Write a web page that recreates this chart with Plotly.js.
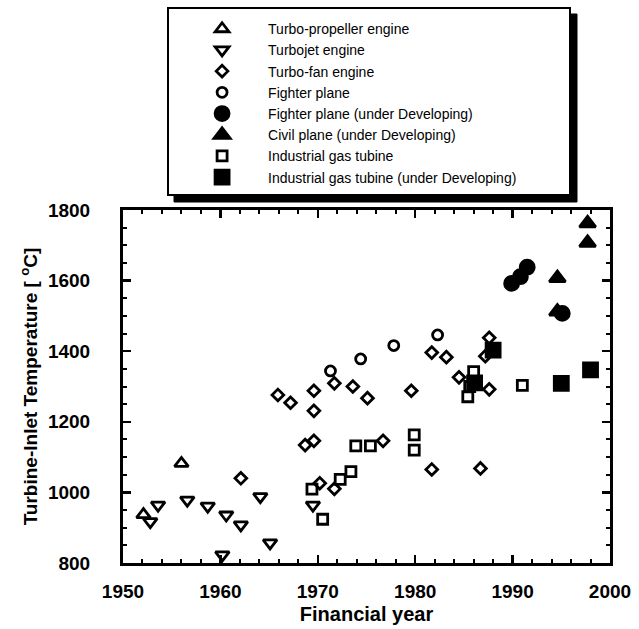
<!DOCTYPE html>
<html>
<head>
<meta charset="utf-8">
<script src="https://cdn.plot.ly/plotly-3.0.1.min.js"></script>
<style>html,body{margin:0;padding:0;background:#fff;}#chart{width:639px;height:629px;}</style>
</head>
<body>
<div id="chart"></div>
<script>
// Data (year, turbine-inlet temperature in °C)
var turbopropX = [1952.1, 1956.0];
var turbopropY = [937, 1082];

var turbojetX = [1952.8, 1953.6, 1956.6, 1958.7, 1960.2, 1960.6, 1962.1, 1964.1, 1965.1, 1969.5];
var turbojetY = [917, 964, 978, 961, 823, 936, 908, 988, 857, 964];

var turbofanX = [1962.1, 1965.9, 1967.2, 1968.7, 1969.6, 1969.6, 1969.6, 1970.2, 1971.7, 1971.7, 1973.6, 1975.1, 1976.7, 1979.6, 1981.7, 1981.7, 1983.2, 1984.5, 1986.7, 1987.2, 1987.6, 1987.6];
var turbofanY = [1040, 1276, 1254, 1134, 1146, 1231, 1288, 1026, 1010, 1309, 1300, 1267, 1146, 1288, 1065, 1396, 1383, 1326, 1068, 1386, 1438, 1292];

var fighterX = [1971.3, 1974.4, 1977.8, 1982.3];
var fighterY = [1344, 1378, 1416, 1446];

var fighterDevX = [1989.9, 1990.8, 1991.5, 1995.1];
var fighterDevY = [1592, 1611, 1638, 1507];

var civilDevX = [1994.6, 1994.6, 1997.7, 1997.7];
var civilDevY = [1512, 1607, 1707, 1762];

var industrialX = [1969.4, 1970.5, 1972.3, 1973.4, 1973.9, 1975.4, 1979.9, 1979.9, 1985.4, 1985.6, 1986.0, 1991.0];
var industrialY = [1009, 924, 1037, 1059, 1132, 1132, 1120, 1163, 1271, 1300, 1342, 1303];

var industrialDevX = [1986.1, 1988.0, 1995.0, 1998.0];
var industrialDevY = [1310, 1403, 1309, 1347];

var seriesNames = [
  'Turbo-propeller engine',
  'Turbojet engine',
  'Turbo-fan engine',
  'Fighter plane',
  'Fighter plane (under Developing)',
  'Civil plane (under Developing)',
  'Industrial gas tubine',
  'Industrial gas tubine (under Developing)'
];

var xTicks = [1950, 1960, 1970, 1980, 1990, 2000];
var yTicks = [800, 1000, 1200, 1400, 1600, 1800];

function tr(x, y, name, symbol, size) {
  return {
    type: 'scatter', mode: 'markers', x: x, y: y, name: name,
    marker: {symbol: symbol, size: size, color: '#000', line: {color: '#000', width: 2.8}},
    cliponaxis: false
  };
}

var data = [
  tr(turbopropX, turbopropY, seriesNames[0], 'triangle-up-open', 12),
  tr(turbojetX, turbojetY, seriesNames[1], 'triangle-down-open', 12),
  tr(turbofanX, turbofanY, seriesNames[2], 'diamond-open', 9),
  tr(fighterX, fighterY, seriesNames[3], 'circle-open', 10),
  tr(fighterDevX, fighterDevY, seriesNames[4], 'circle', 14),
  tr(civilDevX, civilDevY, seriesNames[5], 'triangle-up', 14),
  tr(industrialX, industrialY, seriesNames[6], 'square-open', 10),
  tr(industrialDevX, industrialDevY, seriesNames[7], 'square', 14)
];

var boldFont = {family: 'Liberation Sans, Arial, sans-serif', size: 19, color: '#000', weight: 'bold'};

var layout = {
  width: 639, height: 629,
  margin: {l: 123, r: 29, t: 210, b: 66},
  paper_bgcolor: '#fff', plot_bgcolor: '#fff',
  showlegend: true,
  legend: {
    x: 0.109, xanchor: 'left', y: 1.5577, yanchor: 'top',
    bgcolor: 'rgba(0,0,0,0)', borderwidth: 0,
    font: {family: 'Liberation Sans, Arial, sans-serif', size: 14, color: '#000'},
    itemwidth: 82
  },
  xaxis: {
    range: [1950, 2000], tickvals: xTicks, ticktext: xTicks.map(String),
    ticks: 'inside', ticklen: 8, tickwidth: 2.5, tickcolor: '#000',
    showline: true, linewidth: 3, linecolor: '#000', mirror: 'ticks',
    showgrid: false, zeroline: false,
    minor: {dtick: 2, tick0: 1950, ticks: 'inside', ticklen: 4, tickwidth: 2, tickcolor: '#000', showgrid: false},
    tickfont: boldFont, ticklabelstandoff: 9,
    title: {text: 'Financial year', font: {family: 'Liberation Sans, Arial, sans-serif', size: 20, color: '#000', weight: 'bold'}, standoff: 7}
  },
  yaxis: {
    range: [800, 1800], tickvals: yTicks, ticktext: yTicks.map(String),
    ticks: 'inside', ticklen: 8, tickwidth: 2.5, tickcolor: '#000',
    showline: true, linewidth: 3, linecolor: '#000', mirror: 'ticks',
    showgrid: false, zeroline: false,
    minor: {dtick: 50, tick0: 800, ticks: 'inside', ticklen: 4, tickwidth: 2, tickcolor: '#000', showgrid: false},
    tickfont: boldFont, ticklabelstandoff: 26,
    title: {text: 'Turbine-Inlet Temperature [ <sup>o</sup>C]', font: {family: 'Liberation Sans, Arial, sans-serif', size: 19, color: '#000', weight: 'bold'}, standoff: 6}
  },
  shapes: [
    {type: 'rect', xref: 'paper', yref: 'paper', layer: 'above',
     x0: (174 - 123) / 487, x1: (577 - 123) / 487, y0: (563 - 202) / 353, y1: (563 - 14) / 353,
     fillcolor: '#000', line: {color: '#000', width: 1}},
    {type: 'rect', xref: 'paper', yref: 'paper', layer: 'above',
     x0: (168 - 123) / 487, x1: (570 - 123) / 487, y0: (563 - 195) / 353, y1: (563 - 8) / 353,
     fillcolor: '#fff', line: {color: '#000', width: 2}}
  ]
};

Plotly.newPlot('chart', data, layout, {displayModeBar: false, staticPlot: true});
</script>
</body>
</html>
